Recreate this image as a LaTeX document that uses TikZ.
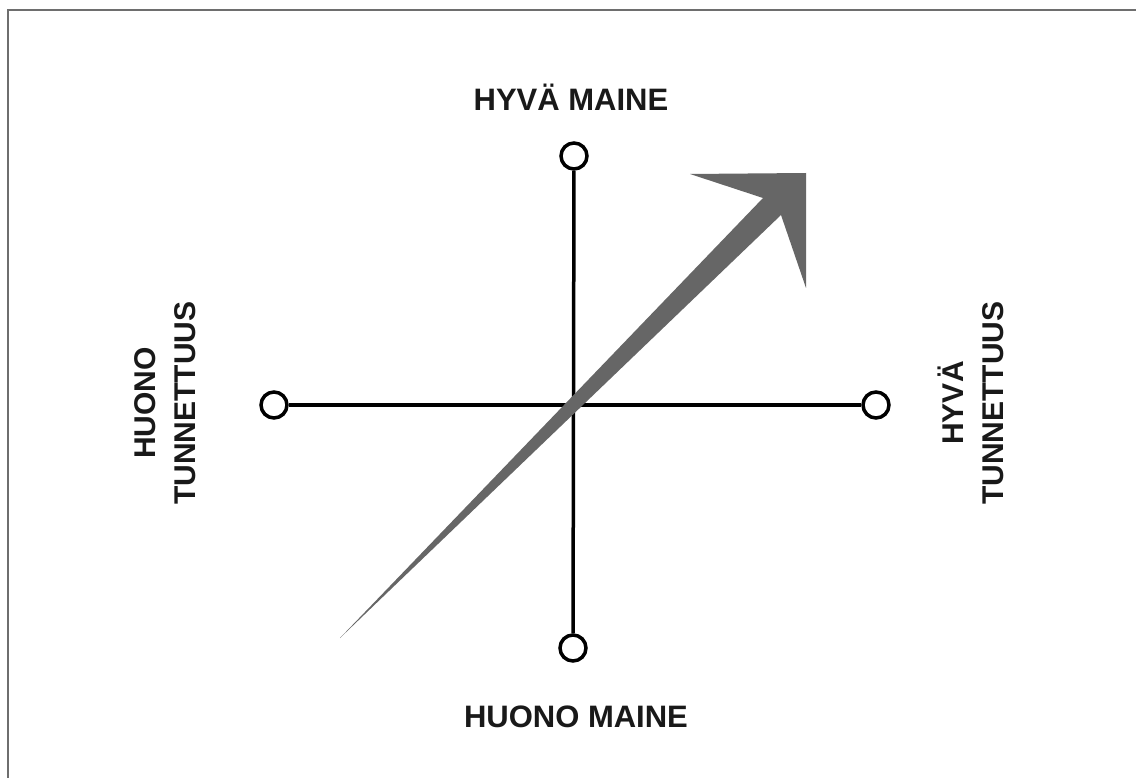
\documentclass[tikz,border=0pt]{standalone}
\usepackage{fontspec}
\setmainfont{Liberation Sans}
\definecolor{framegray}{HTML}{6E6E6E}
\definecolor{arrowgray}{HTML}{666666}
\begin{document}
\begin{tikzpicture}[x=1pt,y=-1pt,
  endpt/.style={circle,draw=black,line width=3.5pt,fill=white,minimum size=26pt,inner sep=0pt},
  axis/.style={line width=3.5pt,black},
  hlabel/.style={font=\bfseries\fontsize{31}{36}\selectfont,text=black!90,inner sep=0pt},
  vlabel/.style={font=\bfseries\fontsize{30}{40}\selectfont,text=black!90,align=center,rotate=90,inner sep=0pt}]
\useasboundingbox (0,0) rectangle (1136,778);
\fill[white] (0,0) rectangle (1136,778);
% frame (top and left edges)
\draw[framegray,line width=2pt] (8,778) -- (8,10) -- (1136,10);
% end points
\node[endpt] (top) at (574,156) {};
\node[endpt] (bot) at (573,648) {};
\node[endpt] (lft) at (274,405) {};
\node[endpt] (rgt) at (876,405) {};
% axes
\draw[axis] (top) -- (bot);
\draw[axis] (lft) -- (rgt);
% big arrow
\coordinate (tail) at (340,638);
\coordinate (innerlow) at (781,215);
\coordinate (barbright) at (806,288);
\coordinate (tip) at (806,173);
\coordinate (barbtop) at (690,174);
\coordinate (innerup) at (763,198);
\fill[arrowgray] (tail) -- (innerlow) -- (barbright) -- (tip) -- (barbtop) -- (innerup) -- cycle;
% labels
\node[hlabel] (lbltop) at (571,97) {HYVÄ MAINE};
\node[hlabel] (lblbot) at (576,717) {HUONO MAINE};
\node[vlabel] (lblleft) at (165,403) {HUONO\\TUNNETTUUS};
\node[vlabel] (lblright) at (971,403) {HYVÄ\\TUNNETTUUS};
\end{tikzpicture}
\end{document}
